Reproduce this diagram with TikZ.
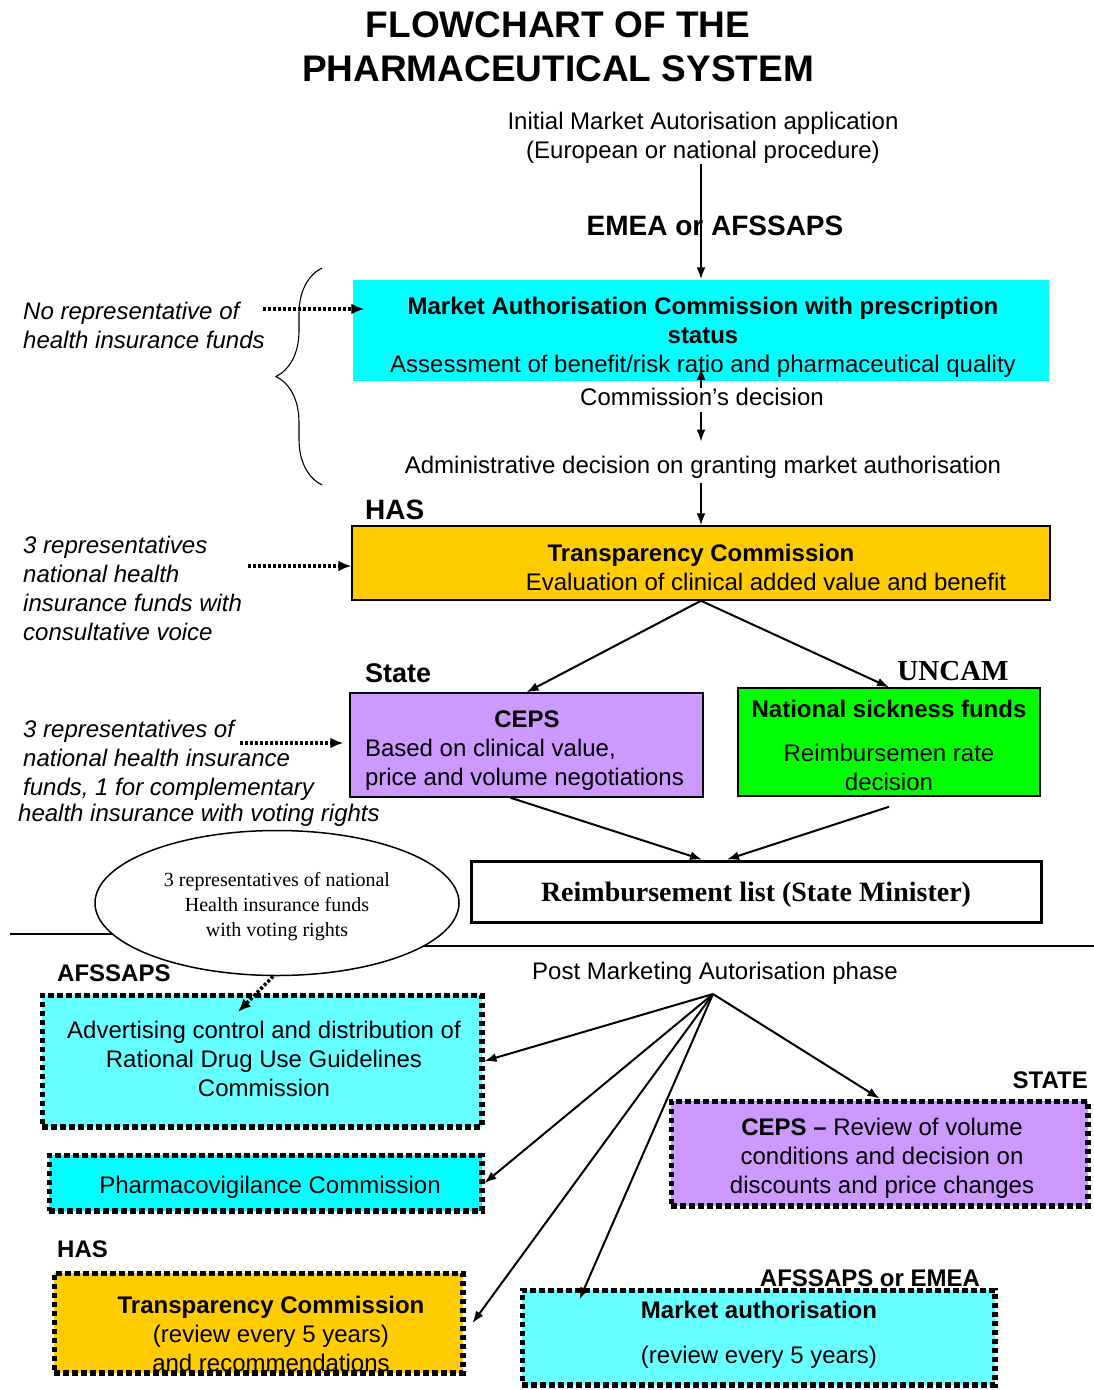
\documentclass[tikz,border=0pt]{standalone}
\usepackage{fontspec}
\setmainfont{Liberation Sans}
\newfontfamily\serifface{Liberation Serif}
\usepackage{tikz}
\usetikzlibrary{shapes.geometric, arrows.meta, positioning, calc, decorations.pathreplacing}
\definecolor{boxcyan}{RGB}{0, 255, 255}
\definecolor{palecyan}{RGB}{102, 255, 255}
\definecolor{boxgold}{RGB}{255, 204, 0}
\definecolor{lilac}{RGB}{204, 153, 255}
\definecolor{limegreen}{RGB}{0, 255, 0}
\newcommand{\bodysize}{\fontsize{24}{29}\selectfont}
\newcommand{\tagsize}{\fontsize{27}{32}\selectfont\bfseries}

\begin{document}
\begin{tikzpicture}[x=1pt, y=-1pt,
    txt/.style={inner sep=0pt, align=center, font=\bodysize},
    note/.style={inner sep=0pt, align=left, anchor=north west, font=\bodysize\itshape},
    tag/.style={inner sep=0pt, font=\tagsize},
    box/.style={rectangle, draw, line width=1.5pt, inner sep=0pt, align=center, font=\bodysize},
    dotbox/.style={rectangle, draw, line width=5.5pt, dash pattern=on 5.5pt off 3.5pt, inner sep=0pt, align=center, font=\bodysize},
    arrow/.style={-{Latex[length=12pt, width=9pt]}, line width=2pt},
    dotarrow/.style={-{Latex[length=13pt, width=11pt]}, line width=3.5pt, dash pattern=on 3pt off 2pt}
]
    \useasboundingbox (0,0) rectangle (1094,1390);

    % Title
    \node[txt, font=\fontsize{37}{44}\selectfont\bfseries] (title) at (558,47) {FLOWCHART OF THE\\PHARMACEUTICAL SYSTEM};

    % Market authorisation
    \node[txt] (init) at (703,138) {Initial Market Autorisation application\\(European or national procedure)};
    \node[tag, font=\fontsize{28}{32}\selectfont\bfseries] (emea) at (715,226) {EMEA or AFSSAPS};
    \node[box, draw=none, fill=boxcyan, minimum width=696, minimum height=101] (mac) at (701,330.5) {};
    \node[txt] (mactext) at (703,337) {\textbf{Market Authorisation Commission with prescription}\\\textbf{status}\\Assessment of benefit/risk ratio and pharmaceutical quality};
    \node[txt] (cd) at (702,397) {Commission’s decision};
    \node[txt] (adm) at (703,467) {Administrative decision on granting market authorisation};
    \draw[decorate, decoration={brace, amplitude=46pt}, line width=1.1pt] (322,485) -- (322,268);

    % Reimbursement
    \node[tag, font=\fontsize{28}{32}\selectfont\bfseries, anchor=west] (has) at (365,510) {HAS};
    \node[box, fill=boxgold, minimum width=698, minimum height=74] (tc) at (701,563) {};
    \node[txt] (tctext) at (701,567) {\textbf{Transparency Commission}\\\hspace*{130pt}Evaluation of clinical added value and benefit};
    \node[tag, anchor=west] (state) at (365,673) {State};
    \node[tag, font=\serifface\fontsize{29}{32}\selectfont\bfseries] (uncam) at (953,671) {UNCAM};
    \node[box, fill=lilac, minimum width=353, minimum height=104] (ceps) at (526.5,745) {};
    \node[txt, align=left] (cepstext) at (527,751) {\makebox[324pt]{\textbf{CEPS}}\\Based on clinical value,\\price and volume negotiations};
    \node[box, fill=limegreen, minimum width=302, minimum height=108] (nsf) at (889,742) {};
    \node[txt] (nsftext) at (889,745) {\textbf{National sickness funds}\\[15pt]Reimbursemen rate\\decision};
    \node[box, line width=3pt, minimum width=570, minimum height=61, font=\serifface\fontsize{28}{32}\selectfont\bfseries] (reimb) at (756,891.5) {};
    \node[txt, font=\serifface\fontsize{28}{32}\selectfont\bfseries] (reimbtext) at (756,895) {Reimbursement list (State Minister)};

    % Health insurance funds
    \node[note] (nr) at (23,302) {No representative of\\health insurance funds};
    \node[note] (tcv) at (23,536) {3 representatives\\national health\\insurance funds with\\consultative voice};
    \node[note] (cv) at (23,720) {3 representatives of\\national health insurance\\funds, 1 for complementary\\[-3pt]\hspace*{-5pt}health insurance with voting rights};
    \coordinate (nrout) at (263,309);
    \coordinate (tcvout) at (248,566);
    \coordinate (cvout) at (240,743);

    % Post marketing phase
    \draw[line width=1.5pt] (10,934) -- (130,934);
    \draw[line width=1.5pt] (400,946) -- (1094,946);
    \node[ellipse, draw, fill=white, line width=1.5pt, minimum width=364, minimum height=145, inner sep=0pt] (ell) at (277,903) {};
    \node[txt, font=\serifface\fontsize{20}{25}\selectfont] (elltext) at (277,907) {3 representatives of national\\Health insurance funds\\with voting rights};
    \node[tag, font=\fontsize{24}{28}\selectfont\bfseries, anchor=west] (afs) at (57,973) {AFSSAPS};
    \node[txt] (pm) at (715,973) {Post Marketing Autorisation phase};
    \coordinate (hub) at (713,994);
    \coordinate (advin) at (238,1012);
    \node[dotbox, fill=palecyan, minimum width=439.5, minimum height=131.5] (adv) at (262,1061) {};
    \node[txt] (advtext) at (264,1059) {Advertising control and distribution of\\Rational Drug Use Guidelines\\Commission};
    \node[dotbox, fill=boxcyan, minimum width=432.5, minimum height=55.5] (pharm) at (265.5,1183) {};
    \node[txt] (pharmtext) at (270,1187) {Pharmacovigilance Commission};
    \node[tag, font=\fontsize{24}{28}\selectfont\bfseries, anchor=west] (has2) at (57,1249) {HAS};
    \node[dotbox, fill=boxgold, minimum width=408.5, minimum height=99.5] (tcr) at (258.5,1323) {};
    \node[txt] (tcrtext) at (271,1334) {\textbf{Transparency Commission}\\(review every 5 years)\\and recommendations};
    \node[tag, font=\fontsize{24}{28}\selectfont\bfseries, anchor=east] (stt) at (1088,1080) {STATE};
    \node[dotbox, fill=lilac, minimum width=416.5, minimum height=104.5] (cepsd) at (879.5,1153.5) {};
    \node[txt] (cepsdtext) at (882,1158) {\textbf{CEPS –} Review of volume\\conditions and decision on\\discounts and price changes};
    \node[tag, font=\fontsize{24}{28}\selectfont\bfseries] (ae) at (870,1278) {AFSSAPS or EMEA};
    \node[dotbox, fill=palecyan, minimum width=472.5, minimum height=94.5] (ma) at (758.5,1337.5) {};
    \node[txt] (matext) at (759,1335) {\textbf{Market authorisation}\\[16pt](review every 5 years)};

    % connectors
    \draw[arrow] (init.south -| mac.north) -- (mac.north);
    \draw[arrow] (cd.north -| mac.south) -- ($(mac.south)+(0,-14)$);
    \draw[arrow] ($(cd.south -| mac.south)+(0,6)$) -- ($(adm.north -| mac.south)+(0,-14)$);
    \draw[arrow] ($(adm.south -| tc.north)+(0,5)$) -- (tc.north);
    \draw[arrow] (tc.south) -- (ceps.north);
    \draw[arrow] (tc.south) -- (nsf.north);
    \draw[arrow] ($(ceps.south)+(-16,0)$) -- ($(reimb.north)+(-54,0)$);
    \draw[arrow] ($(nsf.south)+(0,10)$) -- ($(reimb.north)+(-29,0)$);
    \draw[dotarrow] (nrout) -- ($(nrout -| mac.west)+(12,0)$);
    \draw[dotarrow] (tcvout) -- (tcvout -| tc.west);
    \draw[dotarrow] (cvout) -- ($(cvout -| ceps.west)+(-6,0)$);
    \draw[dotarrow] (ell.-93) -- (advin);
    \draw[arrow] (hub) -- (adv.east);
    \draw[arrow] (hub) -- (pharm.east);
    \draw[arrow] (hub) -- ($(tcr.east)+(7,0)$);
    \draw[arrow] (hub) -- ($(ma.north west)+(60,12)$);
    \draw[arrow] (hub) -- (cepsd.north);
\end{tikzpicture}
\end{document}
